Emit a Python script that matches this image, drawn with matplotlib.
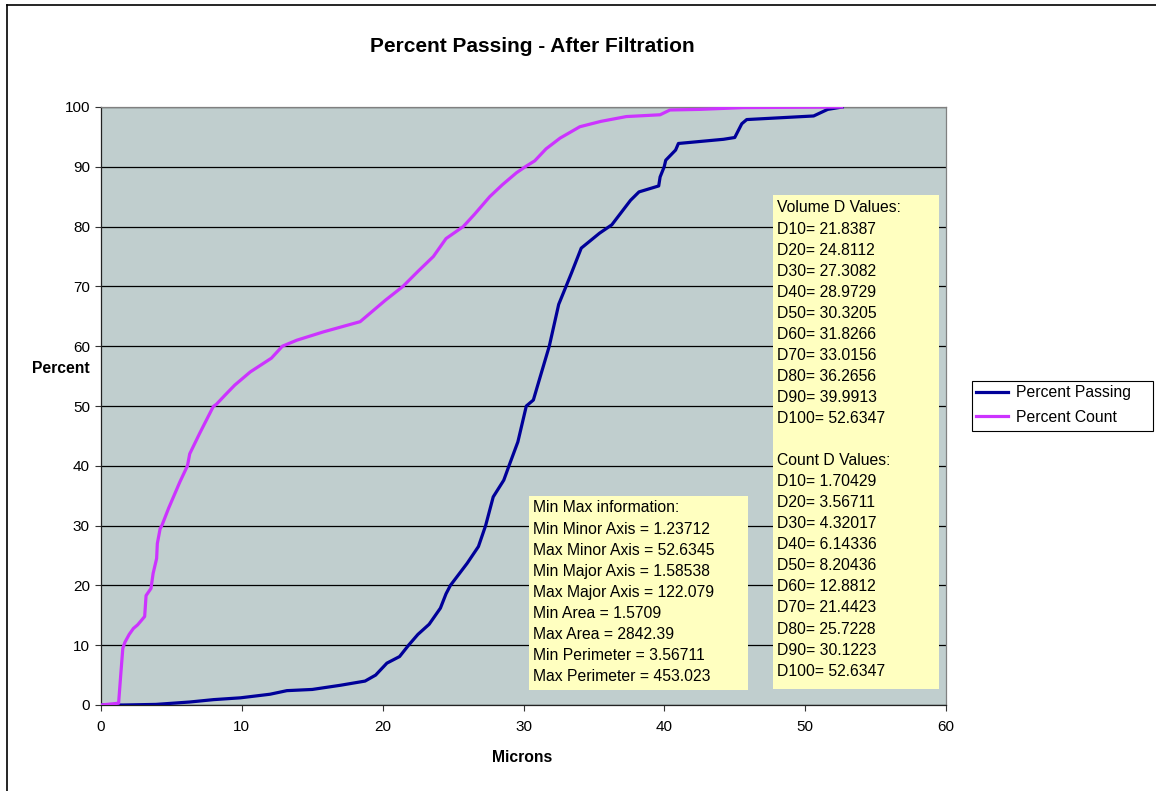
import matplotlib
matplotlib.use('Agg')
import matplotlib.pyplot as plt
from matplotlib.patches import Rectangle
from matplotlib.lines import Line2D

plt.rcParams['font.family'] = ['Liberation Sans', 'DejaVu Sans']

# Percent Passing (volume based) - microns vs percent
passing_x = [0, 1.6, 3.9, 6.3, 8.0, 9.9, 12.0, 13.2, 15.0, 17.0, 18.75, 19.5,
             20.3, 21.2, 21.84, 22.5, 23.3, 24.1, 24.5, 24.81, 26.0, 26.8,
             27.31, 27.85, 28.6, 28.97, 29.6, 30.0, 30.2, 30.7, 31.2, 31.83,
             32.5, 33.02, 33.4, 34.1, 35.4, 36.27, 37.6, 38.2, 39.6, 39.7,
             39.99, 40.1, 40.8, 41.0, 44.2, 45.0, 45.5, 45.85, 50.6, 51.6, 52.63]
passing_y = [0, 0, 0.1, 0.5, 0.9, 1.2, 1.8, 2.4, 2.6, 3.3, 4.0, 5.0,
             7.0, 8.1, 10, 11.8, 13.5, 16.2, 18.6, 20, 23.7, 26.5,
             30, 34.8, 37.6, 40, 44, 48, 50, 51, 55, 60,
             67, 70, 72.2, 76.4, 78.9, 80.3, 84.4, 85.8, 86.8, 88.3,
             90, 91.1, 92.8, 93.9, 94.6, 94.9, 97.2, 97.9, 98.5, 99.6, 100]

# Percent Count
count_x = [0, 1.25, 1.4, 1.55, 1.7, 2.0, 2.3, 2.6, 3.1, 3.2, 3.55, 3.7, 3.95,
           4.0, 4.2, 4.32, 4.8, 5.6, 6.14, 6.3, 7.0, 7.97, 8.2, 8.8, 9.5,
           10.6, 12.1, 12.88, 13.9, 15.8, 18.4, 19.1, 20.2, 21.44, 22.5,
           23.6, 24.5, 25.72, 26.5, 27.6, 28.5, 29.5, 30.12, 30.8, 31.6,
           32.6, 34.0, 35.5, 37.3, 39.7, 40.4, 42.5, 45.6, 52.6]
count_y = [0, 0.3, 5, 9.5, 10.5, 11.8, 12.8, 13.4, 14.8, 18.3, 19.5, 22, 24.5,
           27, 29.5, 30, 32.9, 37.3, 40, 42, 45.4, 49.9, 50.3, 51.8, 53.5,
           55.7, 58, 60, 61, 62.4, 64.1, 65.5, 67.7, 70, 72.5,
           75, 78, 80, 82, 85, 87, 89, 90, 91, 93,
           94.8, 96.7, 97.6, 98.4, 98.7, 99.5, 99.6, 99.9, 100]

minmax_lines = ["Min Max information:",
                "Min Minor Axis = 1.23712",
                "Max Minor Axis = 52.6345",
                "Min Major Axis = 1.58538",
                "Max Major Axis = 122.079",
                "Min Area = 1.5709",
                "Max Area = 2842.39",
                "Min Perimeter = 3.56711",
                "Max Perimeter = 453.023"]

dvalue_lines = ["Volume D Values:",
                "D10= 21.8387", "D20= 24.8112", "D30= 27.3082", "D40= 28.9729",
                "D50= 30.3205", "D60= 31.8266", "D70= 33.0156", "D80= 36.2656",
                "D90= 39.9913", "D100= 52.6347",
                "",
                "Count D Values:",
                "D10= 1.70429", "D20= 3.56711", "D30= 4.32017", "D40= 6.14336",
                "D50= 8.20436", "D60= 12.8812", "D70= 21.4423", "D80= 25.7228",
                "D90= 30.1223", "D100= 52.6347"]

W, H = 1156, 791
fig = plt.figure(figsize=(W / 100, H / 100), dpi=100)
fig.patch.set_facecolor('white')

# chart area border (left and top edges visible)
fig.add_artist(Line2D([7 / W, 7 / W], [0, 1 - 5 / H], color='black', lw=1.2))
fig.add_artist(Line2D([7 / W, 1], [1 - 5 / H, 1 - 5 / H], color='black', lw=1.2))

ax = fig.add_axes([101 / W, 1 - 705 / H, 845 / W, 598 / H])
ax.set_facecolor('#C0CECE')

ax.plot(passing_x, passing_y, color='#000099', lw=2.3, label='Percent Passing', zorder=3)
ax.plot(count_x, count_y, color='#CC33FF', lw=2.3, label='Percent Count', zorder=3)

ax.set_xlim(0, 60)
ax.set_ylim(0, 100)
ax.set_xticks(range(0, 61, 10))
ax.set_yticks(range(0, 101, 10))
ax.yaxis.grid(True, color='black', lw=0.9)
ax.set_axisbelow(True)
ax.tick_params(direction='out', length=4, width=0.8, labelsize=11, pad=4,
               color='#333333')
ax.tick_params(axis='x', pad=7)
for s in ['left', 'bottom']:
    ax.spines[s].set_color('#222222')
    ax.spines[s].set_linewidth(0.9)
for s in ['top', 'right']:
    ax.spines[s].set_color('#808080')
    ax.spines[s].set_linewidth(0.9)

fig.text(532 / W, 1 - 47 / H, 'Percent Passing - After Filtration',
         ha='center', va='center', fontsize=15, fontweight='bold')
fig.text(61 / W, 1 - 369 / H, 'Percent', ha='center', va='center',
         fontsize=11.3, fontweight='bold')
fig.text(522 / W, 1 - 758 / H, 'Microns', ha='center', va='center',
         fontsize=11.3, fontweight='bold')


def text_box(x0, y0, x1, y1, lines, first_y, pad_x):
    # coordinates in figure pixels (top-left origin)
    ax.add_patch(Rectangle(((x0 - 101) / 845, (705 - y1) / 598),
                           (x1 - x0) / 845, (y1 - y0) / 598,
                           transform=ax.transAxes, facecolor='#FFFFC0',
                           edgecolor='none', zorder=4))
    for i, line in enumerate(lines):
        ypx = first_y + i * 21.05
        ax.text((x0 + pad_x - 101) / 845, (705 - ypx) / 598, line,
                transform=ax.transAxes, ha='left', va='center',
                fontsize=11.3, zorder=5)


text_box(529, 496, 748, 690, minmax_lines, 508, 4)
text_box(773, 195, 939, 689, dvalue_lines, 208, 4)

# legend frame drawn by hand (Excel pads the right side more)
fig.add_artist(Rectangle((972 / W, 1 - 431 / H), 181 / W, 50 / H,
                         transform=fig.transFigure, facecolor='white',
                         edgecolor='black', lw=0.8))
leg = fig.legend(loc='upper left', bbox_to_anchor=(974 / W, 1 - 383 / H),
                 borderaxespad=0, frameon=False, fontsize=11.3,
                 handlelength=2.0, borderpad=0.15, labelspacing=0.6,
                 handletextpad=0.55)

fig.savefig('out.png', dpi=100)
